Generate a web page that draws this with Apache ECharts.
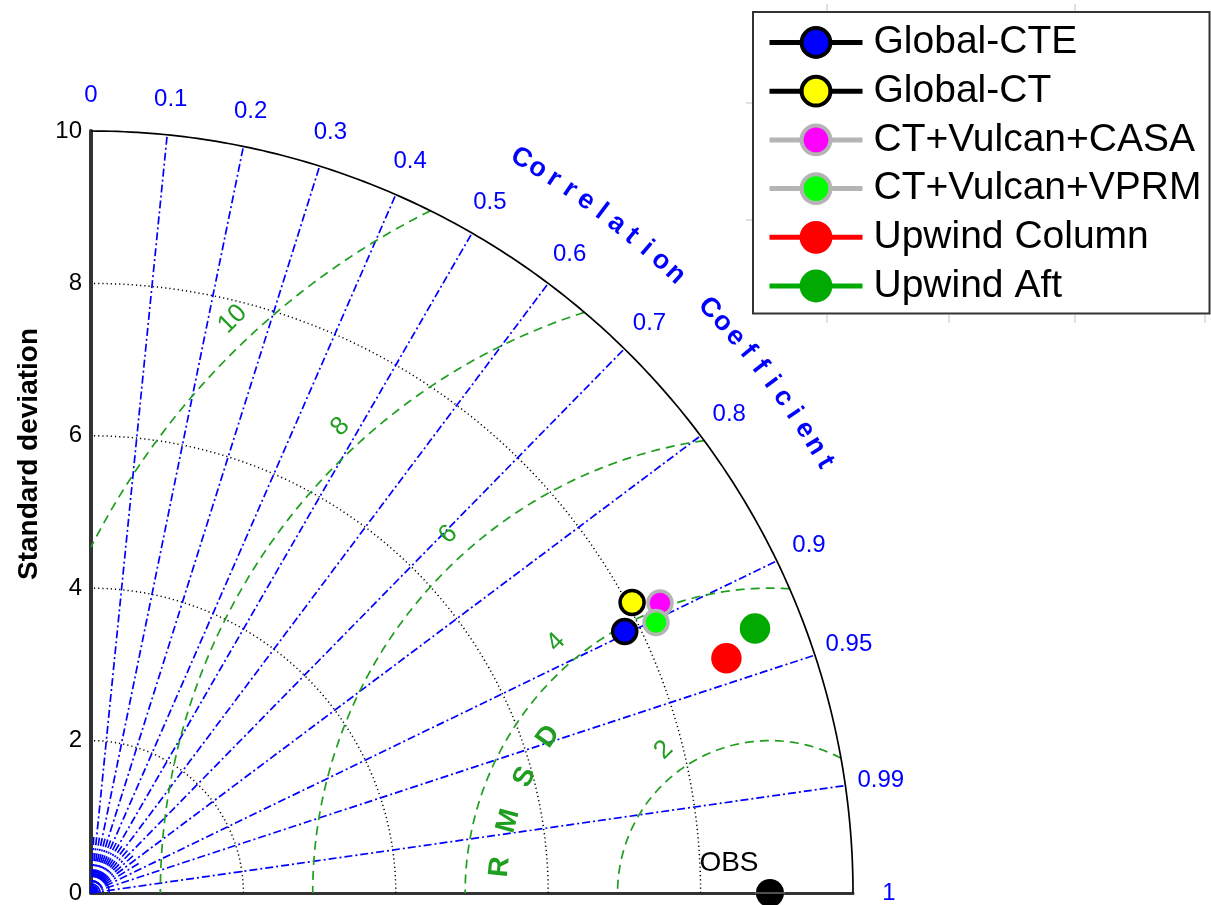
<!DOCTYPE html>
<html>
<head>
<meta charset="utf-8">
<script src="https://cdn.jsdelivr.net/npm/echarts@6/dist/echarts.min.js"></script>
<style>
  html, body { margin: 0; padding: 0; background: #fff; }
  #chart { width: 1211px; height: 905px; }
</style>
</head>
<body>
<div id="chart"></div>
<script>
// Taylor diagram: radius = standard deviation, angle = acos(correlation)
const modelNames = ['Global-CTE', 'Global-CT', 'CT+Vulcan+CASA', 'CT+Vulcan+VPRM', 'Upwind Column', 'Upwind Aft'];
const modelStd = [7.80, 8.06, 8.38, 8.22, 8.89, 9.38];
const modelCorr = [0.898, 0.881, 0.891, 0.902, 0.938, 0.929];
const obsStd = 8.91;

const stdMax = 10;
const stdTicks = [0, 2, 4, 6, 8, 10];
const stdGridLevels = [2, 4, 6, 8];
const corrLineValues = [0.1, 0.2, 0.3, 0.4, 0.5, 0.6, 0.7, 0.8, 0.9, 0.95, 0.99];
const corrTickLabels = [0, 0.1, 0.2, 0.3, 0.4, 0.5, 0.6, 0.7, 0.8, 0.9, 0.95, 0.99, 1];
const corrMinorValues = [0.05, 0.15, 0.25, 0.35, 0.45, 0.55, 0.65, 0.75, 0.85];
const rmsdLevels = [2, 4, 6, 8, 10];
const corrTitle = 'Correlation Coefficient';
const rmsdTitle = 'RMSD';

const FONT = '"Liberation Sans", Arial, Helvetica, sans-serif';
const BLUE = '#0000ff';
const GREEN = '#1f9e1f';
const DEG = Math.PI / 180;

// marker look per model: fill, edge, legend line
const modelLook = [
  { fill: '#0000ff', edge: '#000000', line: '#000000', size: 24 },
  { fill: '#ffff00', edge: '#000000', line: '#000000', size: 24 },
  { fill: '#ff00ff', edge: '#b4b4b4', line: '#b4b4b4', size: 24 },
  { fill: '#00ff00', edge: '#b4b4b4', line: '#b4b4b4', size: 24 },
  { fill: '#ff0000', edge: '#ff0000', line: '#ff0000', size: 27 },
  { fill: '#00aa00', edge: '#00aa00', line: '#00aa00', size: 27 }
];

function toXY(s, c) { return [s * c, s * Math.sqrt(Math.max(0, 1 - c * c))]; }
function polarXY(s, angDeg) { return [s * Math.cos(angDeg * DEG), s * Math.sin(angDeg * DEG)]; }

function stdArc(s) {
  const pts = [];
  for (let a = 0; a <= 90.0001; a += 0.5) pts.push(polarXY(s, a));
  return pts;
}

// RMSD circle around the reference point, kept inside the quarter disc
function rmsdArc(R) {
  let a0 = 0, a1 = 180;
  const c0 = (stdMax * stdMax - obsStd * obsStd - R * R) / (2 * obsStd * R);
  if (c0 < 1) a0 = Math.acos(Math.max(-1, c0)) / DEG;
  if (obsStd - R < 0) a1 = Math.acos(-obsStd / R) / DEG;
  const pts = [];
  const n = 200;
  for (let i = 0; i <= n; i++) {
    const a = (a0 + (a1 - a0) * i / n) * DEG;
    pts.push([obsStd + R * Math.cos(a), Math.max(0, R * Math.sin(a))]);
  }
  return pts;
}

function guide(data, lineStyle, z) {
  return {
    type: 'line', data, symbol: 'none', silent: true, clip: false,
    animation: false, lineStyle, z: z || 2, emphasis: { disabled: true }
  };
}

function textLayer(data, label) {
  return {
    type: 'scatter', silent: true, clip: false, animation: false, symbolSize: 0, z: 5,
    itemStyle: { opacity: 1 }, data, label: Object.assign({ show: true, position: 'inside' }, label),
    emphasis: { disabled: true }
  };
}

const series = [];

// standard deviation arcs
stdGridLevels.forEach(s => series.push(guide(stdArc(s), { color: '#000', width: 1.5, type: [1.2, 3] }, 1)));
series.push(guide(stdArc(stdMax), { color: '#000', width: 1.7, type: 'solid' }, 3));

// correlation spokes
corrLineValues.forEach(c => series.push(guide([[0, 0], toXY(stdMax, c)], { color: BLUE, width: 1.7, type: [8, 3, 2, 3] }, 2)));
corrMinorValues.forEach(c => series.push(guide([[0, 0], toXY(0.75, c)], { color: BLUE, width: 1.6, type: [8, 3, 2, 3] }, 2)));
[0.12, 0.24].forEach(s => series.push(guide(stdArc(s), { color: BLUE, width: 1.6, type: 'solid' }, 2)));

// RMSD contours
rmsdLevels.forEach(R => series.push(guide(rmsdArc(R), { color: GREEN, width: 1.7, type: [9, 6] }, 2)));

// RMSD contour labels, set just outside each contour at 135 degrees
const rmsdLabelAngle = 135, rmsdLabelShift = [0.02, 0.46];
series.push(textLayer(
  rmsdLevels.map(R => ({
    value: [obsStd + R * Math.cos(rmsdLabelAngle * DEG) + rmsdLabelShift[0],
            R * Math.sin(rmsdLabelAngle * DEG) + rmsdLabelShift[1]],
    label: { formatter: String(R) }
  })),
  { rotate: 45, color: GREEN, fontSize: 26, fontFamily: FONT }
));

// "RMSD" title along a circle around the reference point
const rmsdTitleR = 3.56, rmsdTitleStart = 174.5, rmsdTitleStep = -9.9;
series.push(textLayer(
  rmsdTitle.split('').map((ch, i) => {
    const a = rmsdTitleStart + i * rmsdTitleStep;
    return {
      value: [obsStd + rmsdTitleR * Math.cos(a * DEG), rmsdTitleR * Math.sin(a * DEG)],
      label: { formatter: ch, rotate: a - 90 }
    };
  }),
  { color: GREEN, fontSize: 28, fontWeight: 'bold', fontFamily: FONT }
));

// correlation tick labels
series.push(textLayer(
  corrTickLabels.map(c => ({ value: toXY(10.47, c), label: { formatter: String(c) } })),
  { color: BLUE, fontSize: 24, fontFamily: FONT }
));

// "Correlation Coefficient" along the outer arc
const corrTitleR = 11.17, corrTitleStart = 59.65, corrTitleStep = 1.3, corrTitleSpace = 2.5;
(function () {
  const items = [];
  let a = corrTitleStart;
  corrTitle.split('').forEach(ch => {
    if (ch === ' ') { a -= corrTitleStep * (corrTitleSpace - 1); return; }
    items.push({ value: polarXY(corrTitleR, a), label: { formatter: ch, rotate: a - 90 } });
    a -= corrTitleStep;
  });
  series.push(textLayer(items, { color: BLUE, fontSize: 27, fontWeight: 'bold', fontFamily: FONT }));
})();

// reference point
series.push({
  type: 'scatter', silent: true, clip: false, animation: false, z: 8,
  data: [[obsStd, 0]], symbol: 'circle', symbolSize: 28,
  itemStyle: { color: '#000', opacity: 1 },
  label: { show: true, formatter: 'OBS', position: 'inside', offset: [-41, -30], color: '#000', fontSize: 28, fontFamily: FONT },
  emphasis: { disabled: true }
});
series.push(guide([[obsStd - 0.2, 0], [obsStd + 0.2, 0]], { color: '#6a6a6a', width: 1.5 }, 9));

// model points
modelNames.forEach((name, i) => {
  const look = modelLook[i];
  series.push({
    type: 'line', name, clip: false, animation: false, z: 10 + i,
    data: [toXY(modelStd[i], modelCorr[i])],
    symbol: 'circle', symbolSize: look.size, showSymbol: true,
    itemStyle: { color: look.fill, borderColor: look.edge, borderWidth: 3.5, opacity: 1 },
    lineStyle: { color: look.line, width: 5 },
    emphasis: { disabled: true }
  });
});

// faint ticks of the background frame
const frameTicks = [];
[827, 949, 1075, 1205].forEach(x => frameTicks.push({ type: 'line', shape: { x1: x, y1: 315, x2: x, y2: 323 } }));
[827, 1075].forEach(x => frameTicks.push({ type: 'line', shape: { x1: x, y1: 4, x2: x, y2: 11 } }));
[103, 220].forEach(y => frameTicks.push({ type: 'line', shape: { x1: 746, y1: y, x2: 752, y2: y } }));
frameTicks.forEach(t => { t.style = { stroke: '#d6d6d6', lineWidth: 1.5 }; t.silent = true; t.z = 0; });

const chart = echarts.init(document.getElementById('chart'), null, { renderer: 'canvas' });
chart.setOption({
  backgroundColor: '#fff',
  animation: false,
  grid: { left: 91, top: 131, width: 762, height: 762, outerBoundsMode: 'none' },
  xAxis: {
    type: 'value', min: 0, max: stdMax,
    axisLine: { show: true, onZero: false, lineStyle: { color: '#333', width: 3 } },
    axisTick: { show: false }, axisLabel: { show: false }, splitLine: { show: false }
  },
  yAxis: {
    type: 'value', min: stdTicks[0], max: stdTicks[stdTicks.length - 1], interval: 2,
    axisLine: { show: true, onZero: false, lineStyle: { color: '#333', width: 4 } },
    axisTick: { show: false }, splitLine: { show: false },
    axisLabel: { fontSize: 24, color: '#000', margin: 9, fontFamily: FONT }
  },
  legend: {
    data: modelNames, orient: 'vertical', left: 753, top: 12,
    padding: [11, 8, 8, 14], itemWidth: 93, itemHeight: 36, itemGap: 9.7,
    backgroundColor: '#fff', borderColor: '#333', borderWidth: 2,
    itemStyle: { borderWidth: 4 },
    lineStyle: { width: 5 },
    textStyle: { fontSize: 39, lineHeight: 38, color: '#000', fontFamily: FONT, padding: [0, 0, 0, 6] },
    selectedMode: false
  },
  graphic: [
    {
      type: 'text', x: 29, y: 454, rotation: Math.PI / 2, silent: true,
      style: { text: 'Standard deviation', fill: '#000', font: 'bold 28px ' + FONT, align: 'center', verticalAlign: 'middle' }
    }
  ].concat(frameTicks),
  series
});
</script>
</body>
</html>
